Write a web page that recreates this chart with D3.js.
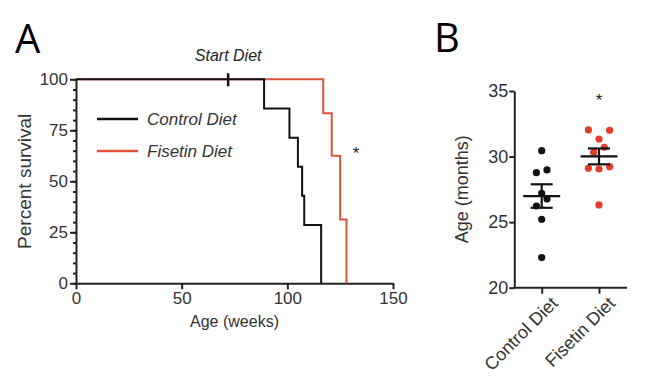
<!DOCTYPE html>
<html>
<head>
<meta charset="utf-8">
<script src="https://cdn.jsdelivr.net/npm/d3@7"></script>
<style>
  body { margin: 0; background: #fff; }
  svg { font-family: "Liberation Sans", Arial, sans-serif; }
  .panel-letter { font-family: "Open Sans", "Noto Sans", sans-serif; font-size: 40px; }
  .axis path, .axis line { stroke: #222; stroke-width: 2; }
  .axis text { font-size: 17px; fill: #333; }
</style>
</head>
<body>
<svg id="chart"></svg>
<script>
// panel A: Kaplan-Meier survival (weeks, percent)
const ctrlWeeks = [0, 89, 101, 105, 107, 108, 116];
const ctrlSurv = [100, 85.7, 71.4, 57.1, 42.9, 28.6, 0];
const fisWeeks = [0, 117, 121, 125, 128];
const fisSurv = [100, 83.3, 62.5, 31.25, 0];
const startDietWeek = 72;
const weekTicks = [0, 50, 100, 150];
const survTicks = [0, 25, 50, 75, 100];

// panel B: age at death (months)
const groups = ['Control Diet', 'Fisetin Diet'];
const ctrlAge = [30.45, 28.77, 28.98, 27.2, 26.77, 26.23, 25.22, 22.3];
const ctrlCol = [0, -1, 1, 0, 1, -1, 0, 0];
const fisAge = [32.03, 32.0, 31.34, 30.71, 30.33, 29.11, 29.05, 29.23, 26.31];
const fisCol = [-2, 2, 0, 1, -1, -2, 0, 2, 0];
const ageTicks = [20, 25, 30, 35];

const red = '#e0533a';
const dotRed = '#e33d2b';

const svg = d3.select('#chart').attr('width', 667).attr('height', 377);

// ---------- Panel A ----------
const xA = d3.scaleLinear().domain([0, 150]).range([76, 393]);
const yA = d3.scaleLinear().domain([0, 100]).range([283.3, 79.3]);

svg.append('text').attr('class', 'panel-letter').attr('x', 15).attr('y', 53).text('A');

// minor ticks on y
svg.append('g')
    .attr('class', 'axis')
    .attr('transform', `translate(${xA(0)},0)`)
    .call(d3.axisLeft(yA).tickValues(d3.range(0, 101, 5)).tickSize(3).tickFormat(''))
    .select('.domain').remove();

svg.append('g')
    .attr('class', 'axis')
    .attr('transform', `translate(${xA(0)},0)`)
    .call(d3.axisLeft(yA).tickValues(survTicks).tickSize(6).tickSizeOuter(0).tickPadding(2));

svg.append('g')
    .attr('class', 'axis')
    .attr('transform', `translate(0,${yA(0)})`)
    .call(d3.axisBottom(xA).tickValues(weekTicks).tickSize(6).tickSizeOuter(0).tickPadding(3));

svg.append('text')
    .attr('transform', `translate(31,${(yA(0) + yA(100)) / 2}) rotate(-90)`)
    .attr('text-anchor', 'middle')
    .style('font-size', '19px').style('fill', '#333')
    .text('Percent survival');

svg.append('text')
    .attr('x', (xA(0) + xA(150)) / 2).attr('y', 327)
    .attr('text-anchor', 'middle')
    .style('font-size', '16px').style('fill', '#333')
    .text('Age (weeks)');

const km = d3.line()
    .x(d => xA(d[0]))
    .y(d => yA(d[1]))
    .curve(d3.curveStepAfter);

svg.append('path')
    .attr('d', km(d3.zip(fisWeeks, fisSurv)))
    .attr('fill', 'none').attr('stroke', red).attr('stroke-width', 2);

svg.append('path')
    .attr('d', km(d3.zip(ctrlWeeks, ctrlSurv)))
    .attr('fill', 'none').attr('stroke', '#111').attr('stroke-width', 2);

// start diet marker
svg.append('line')
    .attr('x1', xA(startDietWeek)).attr('x2', xA(startDietWeek))
    .attr('y1', yA(100) - 6).attr('y2', yA(100) + 7)
    .attr('stroke', '#111').attr('stroke-width', 2.5);

svg.append('text')
    .attr('x', xA(startDietWeek)).attr('y', 61)
    .attr('text-anchor', 'middle')
    .style('font-size', '16px').style('font-style', 'italic').style('fill', '#222')
    .text('Start Diet');

// legend
const legend = [['Control Diet', '#111', 119], ['Fisetin Diet', red, 151]];
legend.forEach(l => {
    svg.append('line')
        .attr('x1', 97).attr('x2', 138).attr('y1', l[2]).attr('y2', l[2])
        .attr('stroke', l[1]).attr('stroke-width', 2.5);
    svg.append('text')
        .attr('x', 147).attr('y', l[2] + 6)
        .style('font-size', '17px').style('font-style', 'italic').style('fill', '#333')
        .text(l[0]);
});

svg.append('text')
    .attr('x', 356).attr('y', 159).attr('text-anchor', 'middle')
    .style('font-size', '17px').style('fill', '#222')
    .text('*');

// ---------- Panel B ----------
const xB = d3.scalePoint().domain(groups).range([541.7, 599]);
const yB = d3.scaleLinear().domain([20, 35]).range([287.7, 91]);

svg.append('text').attr('class', 'panel-letter').attr('x', 434).attr('y', 52).text('B');

svg.append('g')
    .attr('class', 'axis')
    .attr('transform', 'translate(514.3,0)')
    .call(d3.axisLeft(yB).tickValues(ageTicks).tickSize(5).tickSizeOuter(0).tickPadding(1))
    .selectAll('text').style('font-size', '18px');

const xAxisB = svg.append('g')
    .attr('class', 'axis')
    .attr('transform', `translate(0,${yB(20)})`)
    .call(d3.axisBottom(xB).tickSize(6).tickSizeOuter(0).tickPadding(3));
xAxisB.select('.domain').attr('d', 'M513.3,0H627');
xAxisB.selectAll('.tick text')
    .style('font-size', '18px')
    .attr('text-anchor', 'end')
    .attr('transform', 'translate(4,4) rotate(-45)')
    .attr('dy', '0.5em');

svg.append('text')
    .attr('transform', `translate(468,${(yB(20) + yB(35)) / 2}) rotate(-90)`)
    .attr('text-anchor', 'middle')
    .style('font-size', '18px').style('fill', '#333')
    .text('Age (months)');

const series = [
    {name: groups[0], vals: ctrlAge, cols: ctrlCol, color: '#111'},
    {name: groups[1], vals: fisAge, cols: fisCol, color: dotRed}
];

series.forEach(s => {
    const cx = xB(s.name);
    svg.append('g').selectAll('circle')
        .data(s.vals)
        .join('circle')
        .attr('cx', (d, i) => cx + s.cols[i] * 5.3)
        .attr('cy', d => yB(d))
        .attr('r', 3.6)
        .attr('fill', s.color);

    const mean = d3.mean(s.vals);
    const sem = d3.deviation(s.vals) / Math.sqrt(s.vals.length);
    const g = svg.append('g').attr('stroke', '#111').attr('stroke-width', 2.2);
    g.append('line').attr('x1', cx - 18.5).attr('x2', cx + 18.5)
        .attr('y1', yB(mean)).attr('y2', yB(mean));
    g.append('line').attr('x1', cx).attr('x2', cx)
        .attr('y1', yB(mean + sem)).attr('y2', yB(mean - sem));
    [mean + sem, mean - sem].forEach(v => {
        g.append('line').attr('x1', cx - 11).attr('x2', cx + 11)
            .attr('y1', yB(v)).attr('y2', yB(v));
    });
});

svg.append('text')
    .attr('x', xB(groups[1])).attr('y', 106).attr('text-anchor', 'middle')
    .style('font-size', '17px').style('fill', '#222')
    .text('*');
</script>
</body>
</html>
